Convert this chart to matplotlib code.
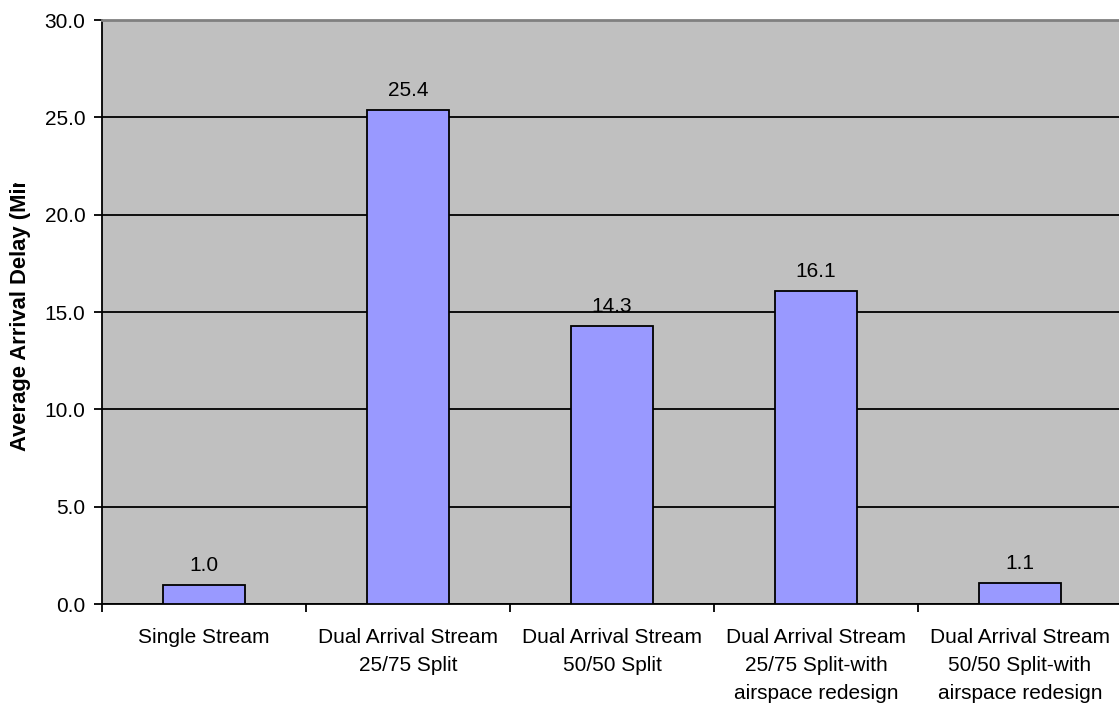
import numpy as np
import matplotlib
matplotlib.use('Agg')
import matplotlib.pyplot as plt
from matplotlib.patches import Rectangle

plt.rcParams['font.family'] = ['Liberation Sans', 'DejaVu Sans']

# data
categories = ['Single Stream',
              'Dual Arrival Stream\n25/75 Split',
              'Dual Arrival Stream\n50/50 Split',
              'Dual Arrival Stream\n25/75 Split-with\nairspace redesign',
              'Dual Arrival Stream\n50/50 Split-with\nairspace redesign']
delays = [1.0, 25.4, 14.3, 16.1, 1.1]
y_ticks = [0, 5, 10, 15, 20, 25, 30]
y_label = 'Average Arrival Delay (Minutes)'

W, H = 1119, 705
fig = plt.figure(figsize=(W / 100, H / 100), dpi=100)
ax = fig.add_axes([102 / W, 1 - 604 / H, 1020 / W, 584 / H])

x = np.arange(len(categories))
bars = ax.bar(x, delays, width=0.4, color='#9999FF', edgecolor='black', linewidth=1.3, zorder=3)

for b, v in zip(bars, delays):
    ax.annotate('%.1f' % v, (b.get_x() + b.get_width() / 2, v), xytext=(0, 7),
                textcoords='offset points', ha='center', va='bottom', fontsize=15)

ax.set_facecolor('#C0C0C0')
ax.set_xlim(-0.5, len(categories) - 0.5)
ax.set_ylim(0, 30)
ax.set_yticks(y_ticks)
ax.set_yticklabels(['%.1f' % t for t in y_ticks], fontsize=15)
ax.yaxis.grid(True, color='black', linewidth=1.3)
ax.set_axisbelow(True)

# ticks on category boundaries, labels in the middle
ax.set_xticks(np.arange(len(categories) + 1) - 0.5)
ax.set_xticklabels([])
ax.set_xticks(x, minor=True)
ax.set_xticklabels(categories, minor=True, fontsize=15, linespacing=1.6, va='top')
ax.tick_params(axis='x', which='minor', length=0, pad=17)
ax.tick_params(axis='x', which='major', direction='out', length=6, width=1.3)
ax.tick_params(axis='y', direction='out', length=6, width=1.3, pad=6)

ax.spines['top'].set_color('#808080')
ax.spines['top'].set_linewidth(2)
ax.spines['right'].set_visible(False)
ax.spines['left'].set_linewidth(1.3)
ax.spines['bottom'].set_linewidth(1.3)

# y label is cut off in the original
lab = fig.text(21 / W, 1 - 451 / H, y_label, rotation=90, ha='center', va='bottom',
               fontsize=15.8, fontweight='bold')
clip = Rectangle((0, 0), 60 / W, 1 - 183 / H, transform=fig.transFigure)
lab.set_clip_path(clip)

fig.savefig('out.png', dpi=100)
